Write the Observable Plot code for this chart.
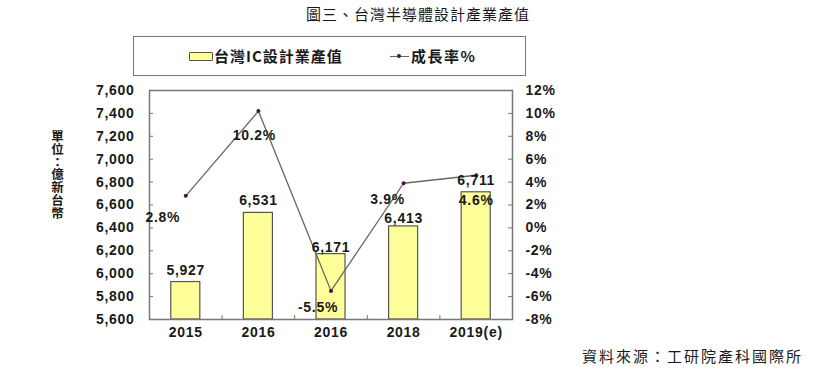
<!DOCTYPE html>
<html><head><meta charset="utf-8">
<script src="https://cdn.jsdelivr.net/npm/d3@7"></script>
<script src="https://cdn.jsdelivr.net/npm/@observablehq/plot@0.6"></script>
<style>
body{margin:0;background:#fff;}
#wrap{position:relative;width:815px;height:390px;overflow:hidden;background:#fff;}
#wrap svg{position:absolute;left:0;top:0;}
.ov{position:absolute;white-space:nowrap;color:#1a1a1a;}
#title{left:418px;top:3px;transform:translateX(-50%);font:15px "Noto Sans CJK TC",sans-serif;letter-spacing:1px;}
#caption{left:582px;top:345px;font:15px "Noto Sans CJK TC",sans-serif;letter-spacing:2px;}
#legendBox{left:133px;top:36px;width:391px;height:38px;border:1.5px solid #777;}
#sw1{left:189px;top:52px;width:22px;height:7px;background:#ffff99;border:1px solid #555;border-radius:1px;}
#lg1{left:214px;top:45px;font:bold 15px "Noto Sans CJK TC",sans-serif;line-height:22px;letter-spacing:1px;}
#sw2{left:390px;top:56px;width:19px;height:0;border-top:1.2px solid #666;}
#sw2dot{left:397px;top:54px;width:4px;height:4px;border-radius:50%;background:#4a1050;}
#lg2{left:411px;top:45px;font:bold 15px "Noto Sans CJK TC",sans-serif;line-height:22px;letter-spacing:1.5px;}
#ylab{left:48px;top:130px;writing-mode:vertical-rl;font:bold 12.5px "Noto Sans CJK TC",sans-serif;letter-spacing:0.3px;}
</style></head><body><div id="wrap"></div>
<script>
// ---- data ----
const years = ["2015", "2016", "2016", "2018", "2019(e)"];
const revenue = [5927, 6531, 6171, 6413, 6711];
const growth = [2.8, 10.2, -5.5, 3.9, 4.6];
const leftTicks = [5600, 5800, 6000, 6200, 6400, 6600, 6800, 7000, 7200, 7400, 7600];
const rightTicks = [-8, -6, -4, -2, 0, 2, 4, 6, 8, 10, 12];
const titleText = "圖三、台灣半導體設計產業產值";
const captionText = "資料來源：工研院產科國際所";
const yLabelText = "單位：億新台幣";
const legendLabels = ["台灣IC設計業產值", "成長率%"];
// label nudges (layout only)
const pctNudge = [[-23, 22], [-4, 24], [-13, 17], [-16, 16], [0, 25]];
const valueNudge = [-12, -12, -7, -8, -12];

// ---- layout ----
const W = 815, H = 390, mL = 149, mR = 303, mT = 90, mB = 71;
const plotW = W - mL - mR, plotH = H - mT - mB;
const yMin = 5600, yMax = 7600, pMin = -8, pMax = 12;
const toY = p => yMin + (p - pMin) * (yMax - yMin) / (pMax - pMin);
const fromY = v => Math.round((v - yMin) * (pMax - pMin) / (yMax - yMin) + pMin);

const rows = years.map((y, i) => ({i, year: y, revenue: revenue[i], growth: growth[i]}));
const font = {fontFamily: "'Liberation Sans', Arial, sans-serif", fontWeight: "bold", fontSize: 14, fill: "#1a1a1a"};

const pctMarks = rows.map((d, k) => Plot.text([d], {
  x: r => r.i + 0.5, y: r => toY(r.growth), text: r => r.growth.toFixed(1) + "%",
  dx: pctNudge[k][0], dy: pctNudge[k][1], ...font
}));
const valMarks = rows.map((d, k) => Plot.text([d], {
  x: r => r.i + 0.5, y: "revenue", text: r => d3.format(",")(r.revenue),
  dy: valueNudge[k], ...font
}));

const chart = Plot.plot({
  width: W, height: H,
  marginLeft: mL, marginRight: mR, marginTop: mT, marginBottom: mB,
  style: {fontFamily: "'Liberation Sans', Arial, sans-serif", background: "transparent", overflow: "visible", letterSpacing: "0.7px"},
  x: {domain: [0, years.length]},
  y: {domain: [yMin, yMax]},
  marks: [
    Plot.rectY(rows, {x1: d => d.i + 0.3, x2: d => d.i + 0.7, y1: yMin, y2: "revenue", fill: "#ffff99", stroke: "#555", strokeWidth: 1.2}),
    Plot.frame({stroke: "#777", strokeWidth: 1.5}),
    Plot.ruleY(leftTicks, {insetRight: plotW - 4, stroke: "#777"}),
    Plot.ruleY(rightTicks.map(toY), {insetLeft: plotW - 4, stroke: "#777"}),
    Plot.ruleX(d3.range(1, years.length), {insetTop: plotH - 4, stroke: "#777"}),
    Plot.line(rows, {x: d => d.i + 0.5, y: d => toY(d.growth), stroke: "#666", strokeWidth: 1.3}),
    Plot.dot(rows, {x: d => d.i + 0.5, y: d => toY(d.growth), r: 2, fill: "#4a1050"}),
    ...valMarks,
    ...pctMarks,
    Plot.axisY({anchor: "left", ticks: leftTicks, tickFormat: d3.format(","), tickSize: 0, tickPadding: 15, label: null, ...font}),
    Plot.axisY({anchor: "right", ticks: rightTicks.map(toY), tickFormat: v => fromY(v) + "%", tickSize: 0, tickPadding: 13, label: null, ...font}),
    Plot.axisX({ticks: years.map((_, i) => i + 0.5), tickFormat: v => years[Math.floor(v)], tickSize: 0, tickPadding: 8, label: null, ...font})
  ]
});

const wrap = document.getElementById("wrap");
wrap.appendChild(chart);
function ov(id, text) {
  const d = document.createElement("div");
  d.className = "ov"; d.id = id;
  if (text != null) d.textContent = text;
  wrap.appendChild(d);
}
ov("title", titleText);
ov("caption", captionText);
ov("legendBox");
ov("sw1");
ov("lg1", legendLabels[0]);
ov("sw2");
ov("sw2dot");
ov("lg2", legendLabels[1]);
ov("ylab", yLabelText);
</script>
</body></html>
